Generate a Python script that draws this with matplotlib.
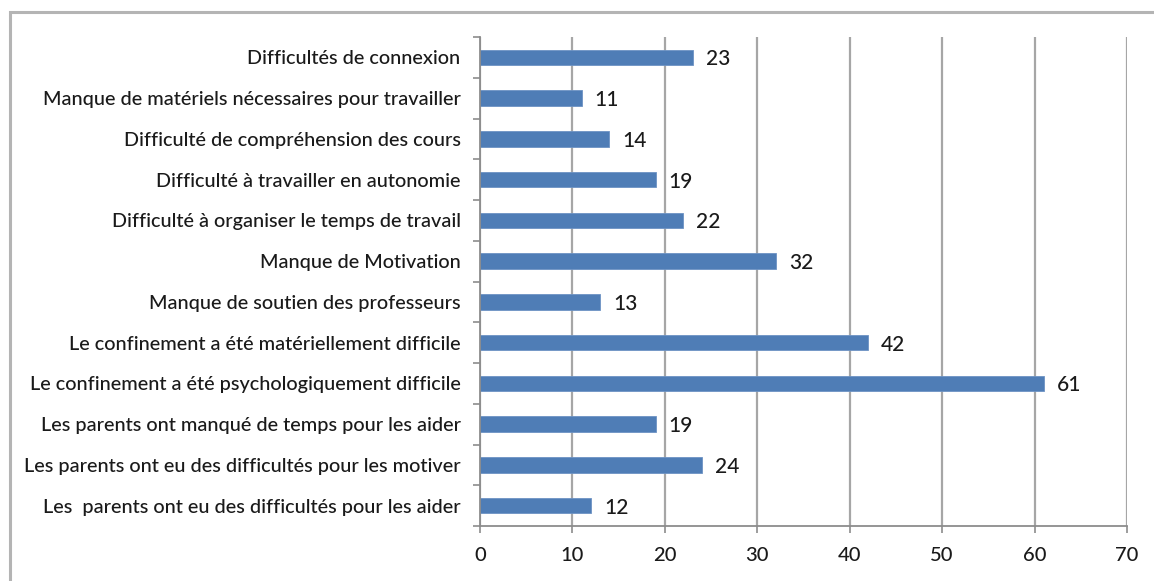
import matplotlib.pyplot as plt
from matplotlib.patches import Rectangle

categories = [
    'Difficultés de connexion',
    'Manque de matériels nécessaires pour travailler',
    'Difficulté de compréhension des cours',
    'Difficulté à travailler en autonomie',
    'Difficulté à organiser le temps de travail',
    'Manque de Motivation',
    'Manque de soutien des professeurs',
    'Le confinement a été matériellement difficile',
    'Le confinement a été psychologiquement difficile',
    'Les parents ont manqué de temps pour les aider',
    'Les parents ont eu des difficultés pour les motiver',
    'Les  parents ont eu des difficultés pour les aider',
]
values = [23, 11, 14, 19, 22, 32, 13, 42, 61, 19, 24, 12]
xticks = [0, 10, 20, 30, 40, 50, 60, 70]

plt.rcParams['font.family'] = ['Lato', 'DejaVu Sans']

fig = plt.figure(figsize=(11.54, 5.81), dpi=100)
ax = fig.add_axes([480 / 1154, 55 / 581, 647 / 1154, 489 / 581])

# outer frame, cut off on right and bottom like the screenshot
fig.patches.append(Rectangle((10 / 1154, -0.1), 1.2, 0.1 + (581 - 12) / 581,
                             transform=fig.transFigure, fill=False,
                             edgecolor='#b4b4b4', lw=2.2, zorder=0))

ys = list(range(len(categories)))[::-1]
ax.barh(ys, values, height=0.38, color='#4f7db6', edgecolor='#6d93c4',
        lw=0.6, zorder=3)
for y, v in zip(ys, values):
    ax.text(v + 1.4, y - 0.05, str(v), va='center', ha='left',
            fontsize=15, fontweight='medium', color='#1a1a1a')

ax.set_xlim(0, 70)
ax.set_ylim(-0.5, len(categories) - 0.5)
ax.set_xticks(xticks)
ax.set_xticklabels([str(t) for t in xticks], fontsize=14.5,
                   fontweight='medium', color='#1a1a1a')
ax.set_yticks(ys)
ax.set_yticklabels(categories, fontsize=14.3, fontweight='medium',
                   color='#1a1a1a')
ax.set_yticks([i - 0.5 for i in range(len(categories) + 1)], minor=True)
ax.tick_params(axis='y', which='major', length=0, pad=14)
ax.tick_params(axis='y', which='minor', length=5, color='#8c8c8c', width=1.2)
ax.tick_params(axis='x', length=5, color='#8c8c8c', width=1.2, pad=10)

ax.grid(axis='x', color='#a6a6a6', lw=1.6, zorder=0)
for s in ['top', 'right']:
    ax.spines[s].set_visible(False)
for s in ['left', 'bottom']:
    ax.spines[s].set_color('#8c8c8c')
    ax.spines[s].set_linewidth(1.3)
    ax.spines[s].set_zorder(4)

fig.savefig('out.png', dpi=100)
